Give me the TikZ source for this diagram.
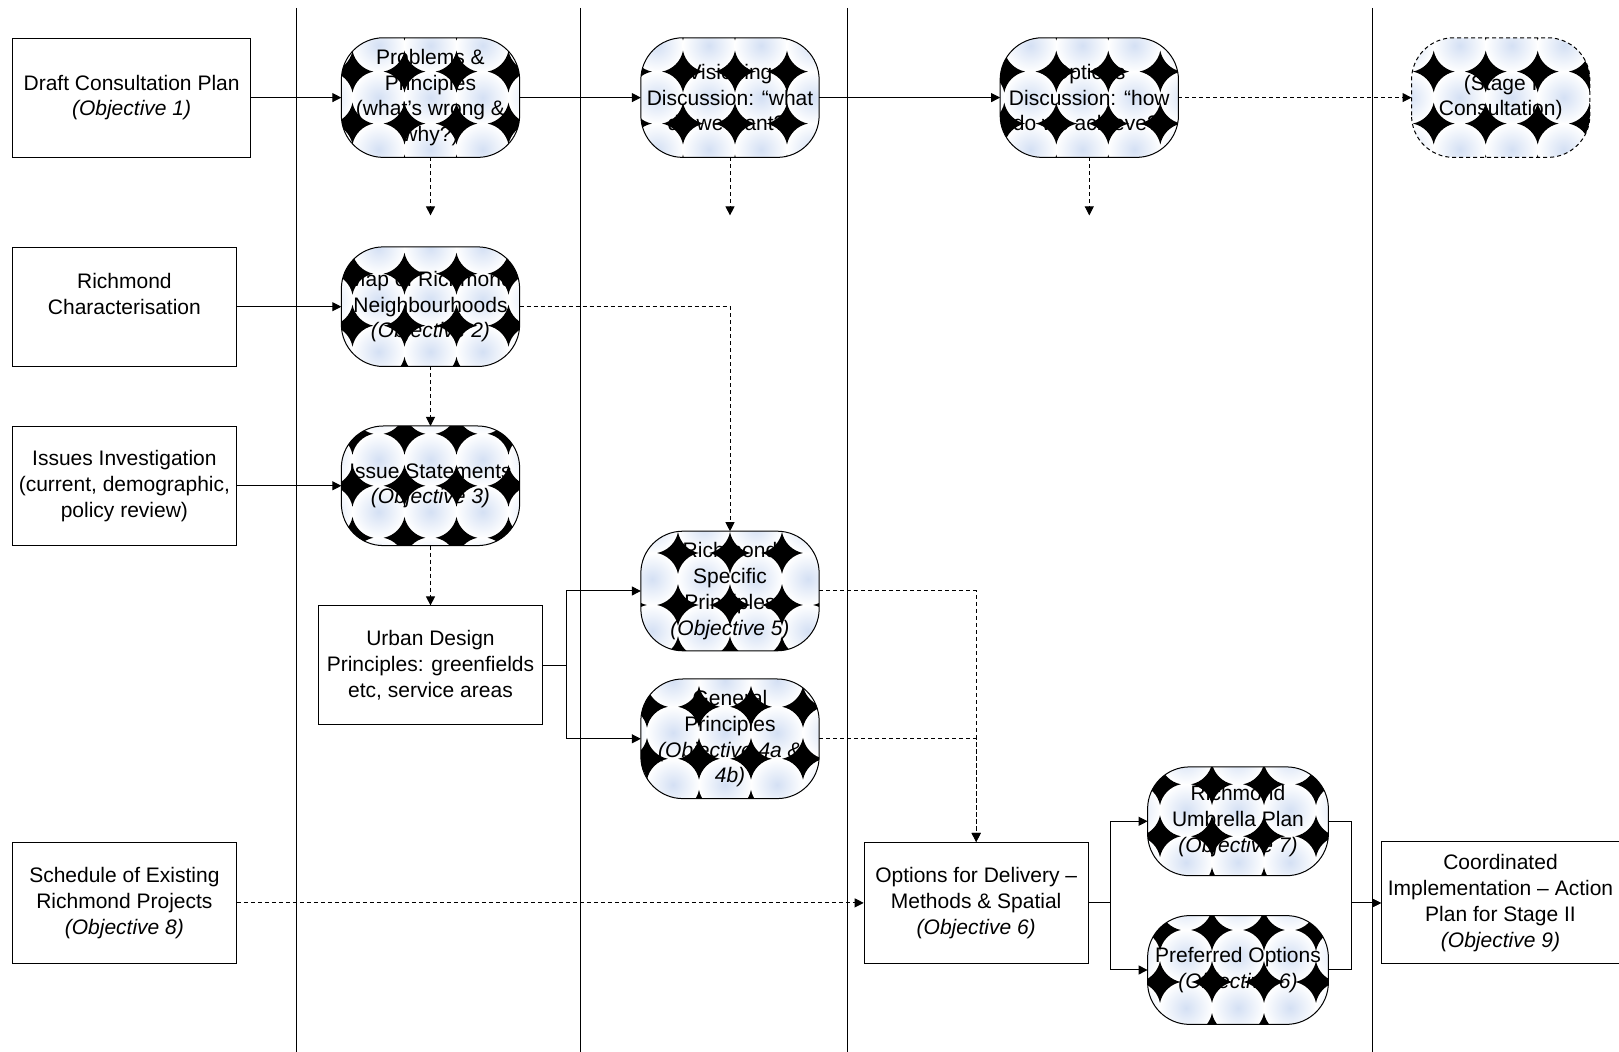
\documentclass[tikz,border=0pt]{standalone}
\usepackage{fontspec}
\setmainfont{Liberation Sans}
\usetikzlibrary{arrows.meta,positioning,calc,backgrounds}
\definecolor{glow}{RGB}{212,224,244}

\begin{document}
\begin{tikzpicture}[
    x=0.5pt, y=-0.5pt,
    every node/.style = {font=\fontsize{10.5}{12.9}\selectfont},
    box/.style = {rectangle, draw=black, line width=0.5pt, minimum width=112pt, minimum height=59.5pt, align=center, inner sep=2pt},
    blob/.style = {rectangle, rounded corners=21pt, minimum width=88.75pt, minimum height=59.4pt, align=center, inner sep=1pt},
    solidedge/.style = {},
    dashedge/.style = {dash pattern=on 2pt off 1.5pt},
    link/.style = {-{Triangle[length=4.5pt, width=4.5pt]}, line width=0.5pt},
    dashlink/.style = {link, dashedge}
]
    \useasboundingbox (0,0) rectangle (1619,1052);

    % 1. Lane separators
    \foreach \lx in {296,580,847,1372}
        \draw[line width=0.5pt] (\lx,8) -- (\lx,1052);

    % 2. Input boxes (left lane)
    \node[box, minimum width=119.25pt] (draft) at (131.6,97.6) {Draft Consultation Plan\\\textit{(Objective 1)}};
    \node[box] (charac) at (124.4,306.7) {Richmond\\Characterisation\\\mbox{}};
    \node[box] (invest) at (124.4,485.8) {Issues Investigation\\(current, demographic,\\policy review)};
    \node[box, minimum height=60.4pt] (sched) at (124.4,902.9) {Schedule of Existing\\Richmond Projects\\\textit{(Objective 8)}};

    % 3. Process blobs
    \node[blob] (probs) at (430.5,97.6) {Problems \&\\Principles\\(what's wrong \&\\why?)};
    \node[blob] (vision) at (730,97.6) {Visioning\\Discussion: “what\\do we want?”};
    \node[blob] (optdisc) at (1089.3,97.6) {Options\\Discussion: “how\\do we achieve?”};
    \node[blob] (stage) at (1500.7,97.6) {(Stage I\\Consultation)};
    \node[blob] (nbhd) at (430.5,306.7) {Map of Richmond\\Neighbourhoods\\\textit{(Objective 2)}};
    \node[blob] (issues) at (430.5,485.8) {Issue Statements\\\textit{(Objective 3)}};
    \node[blob] (specific) at (730,591) {Richmond\\Specific\\Principles\\\textit{(Objective 5)}};
    \node[blob] (general) at (730,738.8) {General\\Principles\\\textit{(Objective 4a \&}\\\textit{4b)}};
    \node[blob, minimum width=90pt, minimum height=54pt] (umbrella) at (1238,821.3) {Richmond\\Umbrella Plan\\\textit{(Objective 7)}};
    \node[blob, minimum width=90pt, minimum height=54pt] (preferred) at (1238,970) {Preferred Options\\\textit{(Objective 6)}};

    % 4. Processing boxes
    \node[box] (urban) at (430.5,665.4) {Urban Design\\Principles: greenfields\\etc, service areas};
    \node[box, minimum height=60.4pt] (delivery) at (976.2,902.9) {Options for Delivery –\\Methods \& Spatial\\\textit{(Objective 6)}};
    \node[box, minimum width=119pt, minimum height=61pt] (action) at (1500.5,903) {Coordinated\\Implementation – Action\\Plan for Stage II\\\textit{(Objective 9)}};

    % 5. Pattern fill of the blobs (glowing discs below the text, stars above it)
    \foreach \n/\dx/\dy/\edge in {probs/0/0/solidedge, vision/-21/0/solidedge, optdisc/-7/0/solidedge, stage/11/0/dashedge,
                                  nbhd/0/-7/solidedge, issues/0/26/solidedge, specific/26/-12/solidedge, general/-5/-6/solidedge,
                                  umbrella/0/-11/solidedge, preferred/0/-14/solidedge} {
        \begin{scope}[on background layer]
            \begin{scope}
                \clip[rounded corners=21pt] (\n.south west) rectangle (\n.north east);
                \fill[white] (\n.south west) rectangle (\n.north east);
                \foreach \i in {-2,...,2}
                    \foreach \j in {-2,...,2}
                        \shade[inner color=glow, outer color=white] ($(\n.center)+({\dx+(\i)*52},{\dy+(\j)*52})$) circle (13.25pt);
            \end{scope}
        \end{scope}
        \begin{scope}
            \clip[rounded corners=21pt] (\n.south west) rectangle (\n.north east);
            \fill[black]
                \foreach \i in {-3,...,2} {\foreach \j in {-3,...,2} {
                    ($(\n.center)+({\dx+(\i+0.5)*52},{\dy+(\j+0.5)*52})$) ++(10.44pt,0)
                    \foreach \k in {0,...,3} {arc[start angle={258.86+90*\k}, delta angle=-67.72, radius=13.25pt]} -- cycle
                }};
        \end{scope}
        \draw[\edge, line width=0.5pt, rounded corners=21pt] (\n.south west) rectangle (\n.north east);
    }

    % 6. Connections
    % Top row
    \draw[link] (draft) -- (probs);
    \draw[link] (probs) -- (vision);
    \draw[link] (vision) -- (optdisc);
    \draw[dashlink] (optdisc) -- (stage);
    \coordinate[below=29pt of probs] (probs_tip);
    \coordinate[below=29pt of vision] (vision_tip);
    \coordinate[below=29pt of optdisc] (optdisc_tip);
    \draw[dashlink] (probs) -- (probs_tip);
    \draw[dashlink] (vision) -- (vision_tip);
    \draw[dashlink] (optdisc) -- (optdisc_tip);

    % Investigation lane
    \draw[link] (charac) -- (nbhd);
    \draw[dashlink] (nbhd) -- (issues);
    \draw[dashlink] (nbhd.east) -| (specific.north);
    \draw[link] (invest) -- (issues);
    \draw[dashlink] (issues) -- (urban);
    \draw[link] (urban.east) -- ++(23,0) |- (specific.west);
    \draw[link] (urban.east) -- ++(23,0) |- (general.west);

    % Delivery
    \draw[dashlink] (specific.east) -| (delivery.north);
    \draw[dashlink] (general.east) -| (delivery.north);
    \draw[dashlink] (sched) -- (delivery);
    \draw[link] (delivery.east) -- ++(22,0) |- (umbrella.west);
    \draw[link] (delivery.east) -- ++(22,0) |- (preferred.west);
    \draw[link] (umbrella.east) -- ++(23.5,0) |- (action.west);
    \draw[link] (preferred.east) -- ++(23.5,0) |- (action.west);

\end{tikzpicture}
\end{document}
